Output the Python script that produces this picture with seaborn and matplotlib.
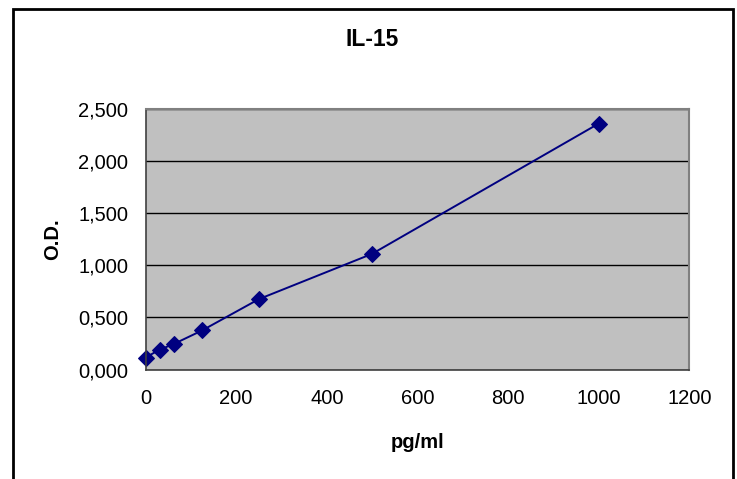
import matplotlib
matplotlib.use("Agg")
import matplotlib.pyplot as plt
from matplotlib.patches import Rectangle
from matplotlib.ticker import FuncFormatter, MultipleLocator
import seaborn as sns
import pandas as pd

# standard curve values
concentration = [0, 31.25, 62.5, 125, 250, 500, 1000]
optical_density = [0.115, 0.19, 0.245, 0.375, 0.675, 1.11, 2.36]

title = "IL-15"
x_label = "pg/ml"
y_label = "O.D."

df = pd.DataFrame({"pg/ml": concentration, "OD": optical_density})

sns.set_style("white", {"axes.facecolor": "#C0C0C0", "text.color": "black"})
plt.rcParams["font.family"] = ["Liberation Sans", "DejaVu Sans"]

fig = plt.figure(figsize=(7.37, 4.79), dpi=100)
ax = fig.add_axes([145.5 / 737, 1 - 369.5 / 479, (689.3 - 145.5) / 737, (369.5 - 109) / 479])

ax.set_axisbelow(True)
ax.yaxis.grid(True, color="black", linewidth=1.0)

sns.lineplot(data=df, x="pg/ml", y="OD", ax=ax, color="#000080", linewidth=1.4,
             marker="D", markersize=8, markeredgecolor="#000080", clip_on=False)

ax.set_xlim(0, 1200)
ax.set_ylim(0, 2.5)
ax.xaxis.set_major_locator(MultipleLocator(200))
ax.yaxis.set_major_locator(MultipleLocator(0.5))
ax.yaxis.set_major_formatter(FuncFormatter(lambda v, p: f"{v:.3f}".replace(".", ",")))

ax.tick_params(axis="both", labelsize=14.5, colors="black", length=4.5, width=1,
               direction="out")
ax.tick_params(axis="x", pad=9.5)
ax.tick_params(axis="y", pad=8)
for t in ax.get_xticklines() + ax.get_yticklines():
    t.set_color("#404040")

for side in ["top", "right"]:
    ax.spines[side].set_color("#808080")
    ax.spines[side].set_linewidth(1.5)
for side in ["left", "bottom"]:
    ax.spines[side].set_color("#404040")
    ax.spines[side].set_linewidth(1.2)

ax.set_xlabel("")
ax.set_ylabel("")
fig.text(417.4 / 737, 1 - 443 / 479, x_label, ha="center", va="center",
         fontsize=14.5, fontweight="bold", color="black")
fig.text(53 / 737, 1 - 239.5 / 479, y_label, ha="center", va="center",
         rotation=90, fontsize=14.5, fontweight="bold", color="black")
fig.text(372 / 737, 1 - 39 / 479, title, ha="center", va="center",
         fontsize=16.5, fontweight="bold", color="black")

# chart area border (bottom edge lies outside the image)
fig.patches.append(Rectangle((12.5 / 737, -0.05), (733 - 12.5) / 737, 1.05 - 9 / 479,
                             transform=fig.transFigure, fill=False,
                             edgecolor="black", linewidth=2))

fig.savefig("out.png", dpi=100)
